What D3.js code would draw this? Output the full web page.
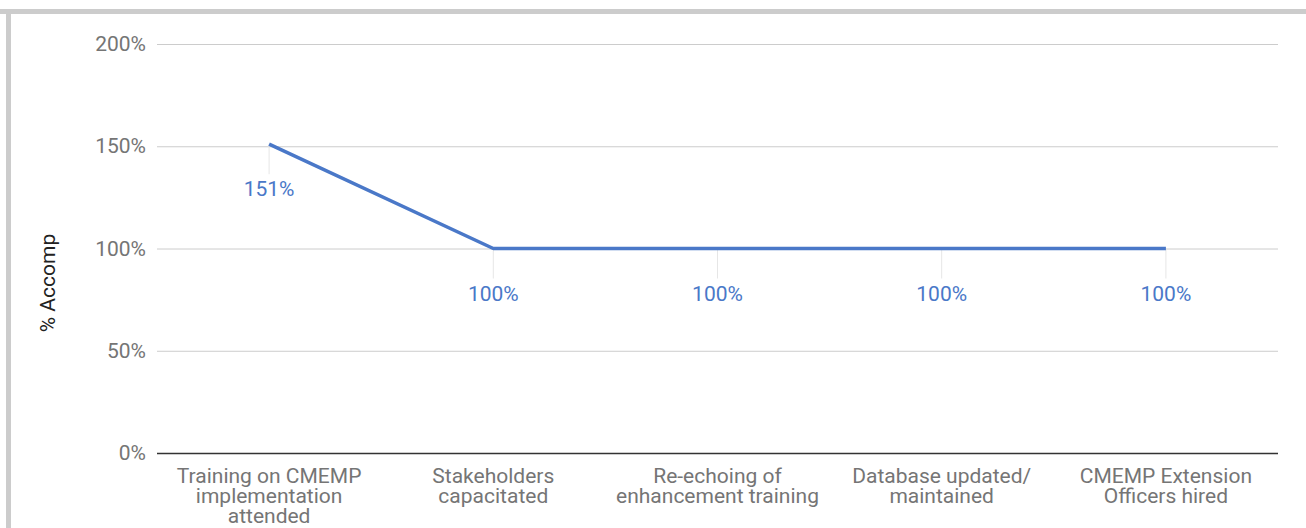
<!DOCTYPE html>
<html>
<head>
<meta charset="utf-8">
<script src="https://cdn.jsdelivr.net/npm/d3@7"></script>
<style>
  body { margin: 0; background: #fff; }
  svg text { font-family: Roboto, "Noto Sans", sans-serif; }
</style>
</head>
<body>
<div id="chart"></div>
<script>
// chart data
var categories = [
  ["Training on CMEMP", "implementation", "attended"],
  ["Stakeholders", "capacitated"],
  ["Re-echoing of", "enhancement training"],
  ["Database updated/", "maintained"],
  ["CMEMP Extension", "Officers hired"]
];
var values = [151, 100, 100, 100, 100];
var yTicks = [0, 50, 100, 150, 200];
var yTitle = "% Accomp";

var W = 1306, H = 528;
var margin = {top: 44, left: 157, right: 28, bottom: 75};
var width = W - margin.left - margin.right,
    height = H - margin.top - margin.bottom;
var fs = "21px";

var svg = d3.select("#chart").append("svg")
  .attr("width", W).attr("height", H);

// frame border (top & left visible)
svg.append("rect").attr("x", 0).attr("y", 9).attr("width", W).attr("height", 5).attr("fill", "#cccccc");
svg.append("rect").attr("x", 6).attr("y", 9).attr("width", 5).attr("height", H).attr("fill", "#cccccc");

var g = svg.append("g").attr("transform", "translate(" + margin.left + "," + margin.top + ")");

var x = d3.scaleBand().domain(d3.range(categories.length)).range([0, width]);
var y = d3.scaleLinear().domain([0, 200]).range([height, 0]);

// gridlines + y labels
var yAxis = g.append("g").call(d3.axisLeft(y).tickValues(yTicks).tickSize(-width).tickFormat(function(d) { return d + "%"; }));
yAxis.select(".domain").remove();
yAxis.selectAll(".tick line").attr("stroke", function(d) { return d === 0 ? "#333" : "#cccccc"; })
  .attr("stroke-width", function(d) { return d === 0 ? 1.5 : 1; });
yAxis.selectAll(".tick text").attr("x", -11).attr("fill", "#757575").style("font-size", fs);

// x labels
var xl = g.append("g").attr("transform", "translate(0," + height + ")");
categories.forEach(function(lines, i) {
  var t = xl.append("text").attr("text-anchor", "middle").attr("fill", "#757575")
    .style("font-size", fs).attr("x", x(i) + x.bandwidth() / 2).attr("y", 30);
  lines.forEach(function(s, j) {
    t.append("tspan").attr("x", x(i) + x.bandwidth() / 2).attr("dy", j === 0 ? 0 : 20).text(s);
  });
});

// y title
svg.append("text").attr("transform", "translate(55,283) rotate(-90)")
  .attr("text-anchor", "middle").attr("fill", "#222").style("font-size", fs).text(yTitle);

var cx = function(i) { return x(i) + x.bandwidth() / 2; };

// leader lines
g.selectAll(".lead").data(values).enter().append("line")
  .attr("x1", function(d, i) { return cx(i); }).attr("x2", function(d, i) { return cx(i); })
  .attr("y1", function(d) { return y(d); }).attr("y2", function(d) { return y(d) + 30; })
  .attr("stroke", "#e6e6e6").attr("stroke-width", 1);

// line
var line = d3.line().x(function(d, i) { return cx(i); }).y(function(d) { return y(d); });
g.append("path").datum(values).attr("d", line).attr("fill", "none")
  .attr("stroke", "#4a78c8").attr("stroke-width", 3.5).attr("stroke-linejoin", "round");

// data labels
g.selectAll(".lbl").data(values).enter().append("text")
  .attr("x", function(d, i) { return cx(i); }).attr("y", function(d) { return y(d) + 52; })
  .attr("text-anchor", "middle").attr("fill", "#4a78c8").style("font-size", fs)
  .text(function(d) { return d + "%"; });
</script>
</body>
</html>
